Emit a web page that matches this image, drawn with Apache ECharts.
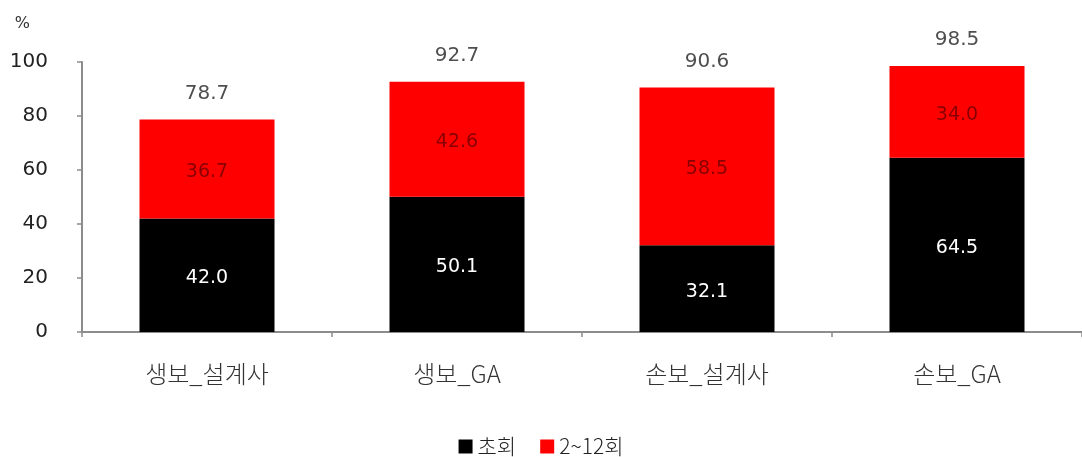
<!DOCTYPE html>
<html>
<head>
<meta charset="utf-8">
<script src="https://cdn.jsdelivr.net/npm/echarts@6/dist/echarts.min.js"></script>
<style>
  html, body { margin: 0; padding: 0; background: #ffffff; }
  #chart { width: 1082px; height: 457px; }
</style>
</head>
<body>
<div id="chart"></div>
<script>
// Channel categories
const categories = ['생보_설계사', '생보_GA', '손보_설계사', '손보_GA'];
// First-time (초회) share, %
const firstValues = [42.0, 50.1, 32.1, 64.5];
// Months 2~12 share, %
const laterValues = [36.7, 42.6, 58.5, 34.0];
// Totals shown above each bar, %
const totalValues = [78.7, 92.7, 90.6, 98.5];
// Y axis ticks
const yTicks = [0, 20, 40, 60, 80, 100];

const FONT = '"DejaVu Sans", "Noto Sans CJK KR", sans-serif';
const KFONT = '"Noto Sans CJK KR", "DejaVu Sans", sans-serif';

const chart = echarts.init(document.getElementById('chart'), null, { renderer: 'canvas' });

chart.setOption({
  animation: false,
  backgroundColor: '#ffffff',
  grid: { left: 82, right: 0, top: 62, bottom: 125, containLabel: false },
  legend: {
    top: 431,
    left: 'center',
    itemWidth: 14,
    itemHeight: 14,
    itemGap: 24,
    icon: 'rect',
    textStyle: { fontFamily: KFONT, fontSize: 21, fontWeight: 300, color: '#222' },
    data: ['초회', '2~12회']
  },
  xAxis: {
    type: 'category',
    data: categories,
    axisLine: { lineStyle: { color: '#8c8c8c', width: 2 } },
    axisTick: { show: true, alignWithLabel: false, length: 5, lineStyle: { color: '#8c8c8c', width: 1.5 } },
    axisLabel: { fontFamily: KFONT, fontSize: 24, fontWeight: 300, color: '#333', margin: 30 }
  },
  yAxis: {
    type: 'value',
    min: yTicks[0],
    max: yTicks[yTicks.length - 1],
    interval: 20,
    name: '%',
    nameLocation: 'end',
    nameGap: 30,
    nameTextStyle: { fontFamily: FONT, fontSize: 16, color: '#333', align: 'right', padding: [0, 52, 0, 0] },
    axisLine: { show: true, lineStyle: { color: '#8c8c8c', width: 2 } },
    axisTick: { show: true, length: 5, lineStyle: { color: '#8c8c8c', width: 1.5 } },
    splitLine: { show: false },
    axisLabel: { fontFamily: FONT, fontSize: 20, color: '#222', margin: 34 }
  },
  series: [
    {
      name: '초회',
      type: 'bar',
      stack: 'total',
      barWidth: '54%',
      itemStyle: { color: '#000000' },
      label: {
        show: true,
        position: 'inside',
        offset: [0, 3],
        color: '#ffffff',
        fontFamily: FONT,
        fontSize: 19,
        formatter: p => p.value.toFixed(1)
      },
      data: firstValues
    },
    {
      name: '2~12회',
      type: 'bar',
      stack: 'total',
      barWidth: '54%',
      itemStyle: { color: '#ff0000' },
      label: {
        show: true,
        position: 'inside',
        offset: [0, 3],
        color: '#8a0000',
        fontFamily: FONT,
        fontSize: 19,
        formatter: p => p.value.toFixed(1)
      },
      data: laterValues
    },
    {
      name: '합계',
      type: 'scatter',
      symbolSize: 0,
      silent: true,
      label: {
        show: true,
        position: 'top',
        distance: 16,
        color: '#222',
        fontFamily: FONT,
        fontSize: 20,
        formatter: p => p.value.toFixed(1)
      },
      data: totalValues
    }
  ]
});
</script>
</body>
</html>
